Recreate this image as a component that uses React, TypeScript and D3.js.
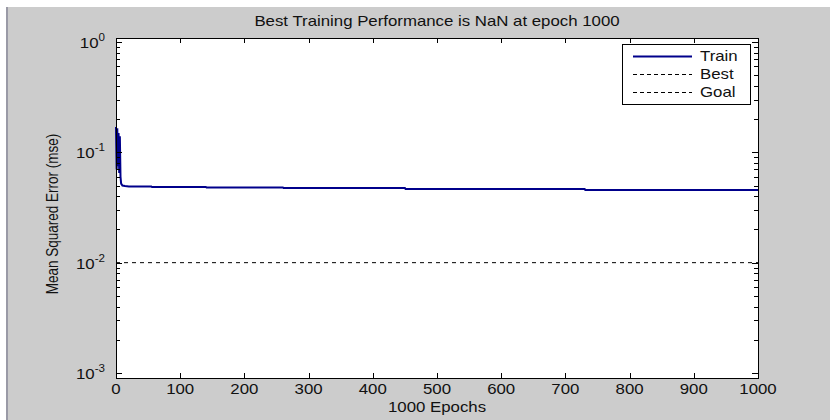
import React, { useEffect, useRef } from 'react';
import * as d3 from 'd3';

// training record (epoch, mse)
const trainEpochs = [0, 1, 2, 3, 4, 5, 6, 7, 8, 10, 14, 20, 55, 56, 140, 141, 260, 261, 450, 451, 730, 731, 1000];
const trainMse = [0.17, 0.07, 0.165, 0.075, 0.15, 0.065, 0.14, 0.06, 0.052, 0.05, 0.0495, 0.049, 0.049, 0.0485, 0.0485, 0.048, 0.048, 0.0475, 0.0475, 0.0465, 0.0465, 0.0455, 0.0455];
const goalValue = 0.01;
const xTicks = [0, 100, 200, 300, 400, 500, 600, 700, 800, 900, 1000];
const yDecades = [-3, -2, -1, 0];
const legendItems = ['Train', 'Best', 'Goal'];

const W = 830;
const H = 420;
const plot = { left: 116, right: 758, top: 38, bottom: 378 };
const SX = 1.16; // the screenshot is stretched horizontally

function App() {
  const ref = useRef(null);

  useEffect(() => {
    const svg = d3.select(ref.current);
    svg.selectAll('*').remove();

    const font = 'Liberation Sans, Arial, sans-serif';

    const x = d3.scaleLinear().domain([0, 1000]).range([plot.left, plot.right]);
    // 10^0 sits a little below the frame top, 10^-3 a little above the bottom
    const yTmp = d3.scaleLog().domain([1e-3, 1]).range([373, 42]);
    const y = d3.scaleLog()
      .domain([yTmp.invert(plot.bottom), yTmp.invert(plot.top)])
      .range([plot.bottom, plot.top]);

    const text = (g, px, py, str, size, anchor) => {
      return g.append('text')
        .attr('transform', `translate(${px},${py}) scale(${SX},1)`)
        .attr('text-anchor', anchor || 'middle')
        .style('font-family', font)
        .style('font-size', size + 'px')
        .style('fill', '#111')
        .text(str);
    };

    // background
    svg.append('rect').attr('width', W).attr('height', H).attr('fill', '#ffffff');
    svg.append('rect').attr('x', 6).attr('y', 7).attr('width', W - 6).attr('height', H - 7).attr('fill', '#cccccc');
    svg.append('rect').attr('x', 6).attr('y', 7).attr('width', 2).attr('height', H - 7).attr('fill', '#9a9aa6');

    svg.append('rect')
      .attr('x', plot.left).attr('y', plot.top)
      .attr('width', plot.right - plot.left).attr('height', plot.bottom - plot.top)
      .attr('fill', '#ffffff');

    // goal line
    svg.append('line')
      .attr('x1', plot.left).attr('x2', plot.right)
      .attr('y1', y(goalValue)).attr('y2', y(goalValue))
      .attr('stroke', '#000').attr('stroke-width', 1)
      .attr('stroke-dasharray', '4,4');

    // train curve
    const pts = trainEpochs.map((e, i) => [e, trainMse[i]]);
    const line = d3.line().x(d => x(d[0])).y(d => y(d[1]));
    svg.append('path')
      .attr('d', line(pts))
      .attr('fill', 'none')
      .attr('stroke', '#00008b')
      .attr('stroke-width', 2);

    // ticks (inward, both sides)
    const tk = svg.append('g').attr('stroke', '#000').attr('stroke-width', 1);
    xTicks.forEach(t => {
      const px = Math.round(x(t)) + 0.5;
      tk.append('line').attr('x1', px).attr('x2', px).attr('y1', plot.bottom).attr('y2', plot.bottom - 5);
      tk.append('line').attr('x1', px).attr('x2', px).attr('y1', plot.top).attr('y2', plot.top + 5);
      text(svg, x(t), plot.bottom + 16, String(t), 14.5);
    });

    const minor = [];
    yDecades.forEach(d => {
      for (let m = 1; m <= 9; m++) {
        const v = m * Math.pow(10, d);
        if (v >= y.domain()[0] && v <= y.domain()[1]) minor.push({ v, major: m === 1 });
      }
    });
    minor.forEach(({ v, major }) => {
      const py = Math.round(y(v)) + 0.5;
      const len = major ? 6 : 4;
      tk.append('line').attr('x1', plot.left).attr('x2', plot.left + len).attr('y1', py).attr('y2', py);
      tk.append('line').attr('x1', plot.right).attr('x2', plot.right - len).attr('y1', py).attr('y2', py);
    });

    yDecades.forEach(d => {
      const py = y(Math.pow(10, d));
      const g = svg.append('text')
        .attr('transform', `translate(${plot.left - 11},${py + 6}) scale(${SX},1)`)
        .attr('text-anchor', 'end')
        .style('font-family', font)
        .style('fill', '#111');
      g.append('tspan').style('font-size', '14.5px').text('10');
      g.append('tspan').style('font-size', '10px').attr('dy', -7).text(String(d));
    });

    // frame
    svg.append('rect')
      .attr('x', plot.left + 0.5).attr('y', plot.top + 0.5)
      .attr('width', plot.right - plot.left).attr('height', plot.bottom - plot.top)
      .attr('fill', 'none').attr('stroke', '#000').attr('stroke-width', 1);

    // titles
    text(svg, (plot.left + plot.right) / 2, 26, 'Best Training Performance is NaN at epoch 1000', 14.5);
    text(svg, (plot.left + plot.right) / 2, 412, '1000 Epochs', 14.5);
    svg.append('text')
      .attr('transform', `translate(58,214) rotate(-90) scale(1,${SX})`)
      .attr('text-anchor', 'middle')
      .style('font-family', font)
      .style('font-size', '13.5px')
      .style('fill', '#111')
      .text('Mean Squared Error  (mse)');

    // legend
    const lg = { x: 622, y: 44, w: 128, h: 60 };
    svg.append('rect')
      .attr('x', lg.x + 0.5).attr('y', lg.y + 0.5).attr('width', lg.w).attr('height', lg.h)
      .attr('fill', '#ffffff').attr('stroke', '#000').attr('stroke-width', 1);
    legendItems.forEach((name, i) => {
      const ly = lg.y + 12 + i * 18;
      svg.append('line')
        .attr('x1', lg.x + 11).attr('x2', lg.x + 70)
        .attr('y1', ly + 0.5).attr('y2', ly + 0.5)
        .attr('stroke', i === 0 ? '#00008b' : '#000')
        .attr('stroke-width', i === 0 ? 2 : 1)
        .attr('stroke-dasharray', i === 0 ? null : '4,3');
      text(svg, lg.x + 78, ly + 5, name, 14.5, 'start');
    });
  }, []);

  return (
    <svg ref={ref} width={W} height={H}
      style={{ position: 'absolute', left: 0, top: 0, display: 'block' }} />
  );
}

export default App;
